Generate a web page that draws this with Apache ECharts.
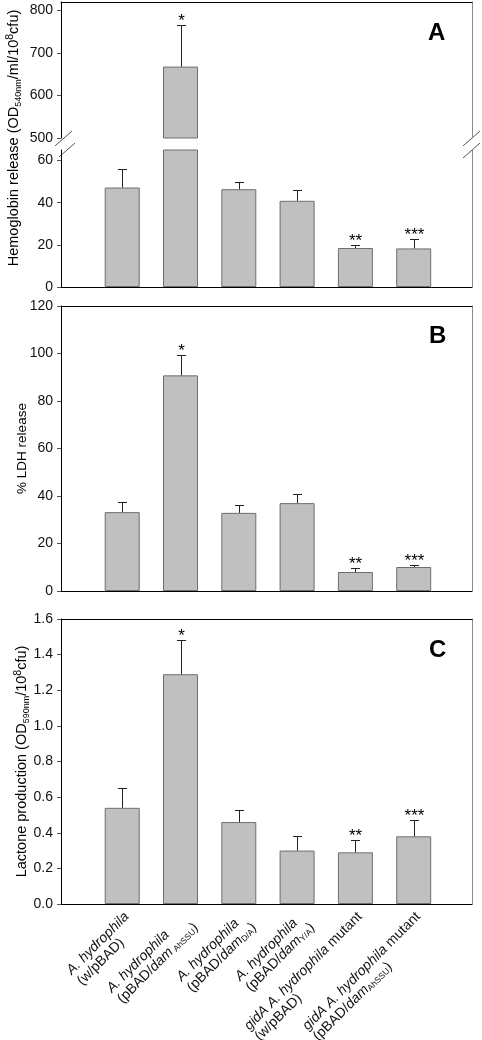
<!DOCTYPE html>
<html><head><meta charset="utf-8">
<script src="https://cdn.jsdelivr.net/npm/echarts@6/dist/echarts.min.js"></script>
<style>html,body{margin:0;padding:0;background:#fff}#c{width:482px;height:1040px}</style>
</head><body><div id="c"></div>
<script>
// ---------- data ----------
const categories = [
  '{i|A. hydrophila}\n{n|(w/pBAD)}',
  '{i|A. hydrophila}\n{n|(pBAD/}{i|dam}{s| AhSSU}{n|)}',
  '{i|A. hydrophila}\n{n|(pBAD/}{i|dam}{s|D/A}{n|)}',
  '{i|A. hydrophila}\n{n|(pBAD/}{i|dam}{s|Y/A}{n|)}',
  '{i|gidA A. hydrophila}{n| mutant}\n{n|(w/pBAD)}',
  '{i|gidA A. hydrophila}{n| mutant}\n{n|(pBAD/}{i|dam}{s|AhSSU}{n|)}'
];
const hemoglobin    = [47.2, 668, 46.4, 40.9, 18.5, 18.3];
const hemoglobinErr = [56.2, 765, 49.6, 46.0, 19.9, 23.0];
const ldh           = [33.2, 90.8, 32.9, 37.0, 8.0, 10.1];
const ldhErr        = [37.3, 99.5, 36.3, 40.9, 9.7, 10.9];
const lactone       = [0.54, 1.29, 0.46, 0.30, 0.29, 0.38];
const lactoneErr    = [0.65, 1.48, 0.53, 0.38, 0.36, 0.47];
const stars         = ['', '*', '', '', '**', '***'];
const hemoUpperTicks = [500, 600, 700, 800];
const hemoLowerTicks = [0, 20, 40, 60];
const ldhTicks       = [0, 20, 40, 60, 80, 100, 120];
const lactoneTicks   = [0, 0.2, 0.4, 0.6, 0.8, 1.0, 1.2, 1.4, 1.6];
const panelLetters   = ['A', 'B', 'C'];

// ---------- helpers ----------
const FONT = '"Liberation Sans", Arial, Helvetica, sans-serif';
const L = 61, W = 411;
const positions = categories.map((c, i) => i + 1);

function xAx(grid, pos, lineShow, color) {
  return {type: 'value', gridIndex: grid, position: pos, min: -0.05, max: 7,
    axisLine: {show: lineShow, onZero: false, lineStyle: {color: color, width: 1}},
    axisTick: {show: false}, axisLabel: {show: false}, splitLine: {show: false}};
}
function yLeft(grid, min, max, ticks, fmt) {
  return {type: 'value', gridIndex: grid, position: 'left', min: min, max: max,
    nameMoveOverlap: false,
    axisLine: {show: true, onZero: false, lineStyle: {color: '#000', width: 1}},
    axisTick: {show: true, length: 4, customValues: ticks, lineStyle: {color: '#555'}},
    axisLabel: {show: true, customValues: ticks, margin: 8, fontSize: 14, fontFamily: FONT, color: '#111',
      formatter: fmt || (v => String(v))},
    splitLine: {show: false}};
}
function yRight(grid, min, max) {
  return {type: 'value', gridIndex: grid, position: 'right', min: min, max: max,
    axisLine: {show: true, onZero: false, lineStyle: {color: '#8a8a8a', width: 1}},
    axisTick: {show: false}, axisLabel: {show: false}, splitLine: {show: false}};
}
function gridAt(top, height) {
  return {left: L, width: W, top: top, height: height, outerBoundsMode: 'none', containLabel: false};
}
const titleRich = {
  sub: {fontSize: 9, fontFamily: FONT, color: '#000', verticalAlign: 'bottom', lineHeight: 18},
  sup: {fontSize: 10.5, fontFamily: FONT, color: '#000', verticalAlign: 'top', lineHeight: 18}
};
function barSeries(xi, yi, vals, filter) {
  return {type: 'bar', xAxisIndex: xi, yAxisIndex: yi, barWidth: 35, clip: true,
    itemStyle: {color: '#c0c0c0', borderColor: '#6e6e6e', borderWidth: 1},
    emphasis: {disabled: true}, silent: true,
    data: vals.map((v, i) => [positions[i], filter && !filter(v) ? '-' : v])};
}
function errSeries(xi, yi, vals, errs, keep) {
  const pts = [];
  vals.forEach((v, i) => { if (keep(errs[i])) pts.push({x: positions[i], v: v, e: errs[i], s: stars[i]}); });
  return {type: 'custom', xAxisIndex: xi, yAxisIndex: yi, z: 5, silent: true,
    data: pts.map(p => [p.x, p.v, p.e]),
    renderItem: function (params, api) {
      const p = pts[params.dataIndex];
      const a = api.coord([p.x, p.v]), b = api.coord([p.x, p.e]);
      const x = Math.round(a[0]) + 0.5;
      const yb = Math.round(b[1]) + 0.5;
      const children = [
        {type: 'line', shape: {x1: x, y1: a[1], x2: x, y2: yb}, style: {stroke: '#222', lineWidth: 1}},
        {type: 'line', shape: {x1: x - 4.5, y1: yb, x2: x + 4.5, y2: yb}, style: {stroke: '#222', lineWidth: 1}}
      ];
      if (p.s) children.push({type: 'text', style: {text: p.s, x: x, y: yb - 4.5, fill: '#000',
        font: '17px ' + FONT, align: 'center', verticalAlign: 'middle'}});
      return {type: 'group', children: children};
    }};
}

// ---------- option ----------
const option = {
  animation: false,
  backgroundColor: '#fff',
  grid: [
    gridAt(2, 136),    // A upper (break)
    gridAt(150, 137),  // A lower
    gridAt(2, 272),    // A title holder
    gridAt(306, 285),  // B
    gridAt(619, 285)   // C
  ],
  xAxis: [
    xAx(0, 'top', true, '#000'),
    xAx(1, 'bottom', true, '#000'),
    Object.assign(xAx(2, 'bottom', false, '#000'), {show: false}),
    xAx(3, 'bottom', true, '#000'),
    xAx(3, 'top', true, '#000'),
    Object.assign(xAx(4, 'bottom', true, '#000'), {
      axisLabel: {show: true, customValues: positions, rotate: 45, margin: 6, padding: [28, 0, 0, 0],
        fontSize: 14, fontFamily: FONT, color: '#111',
        formatter: v => categories[Math.round(v) - 1] || '',
        rich: {
          i: {align: 'left', fontStyle: 'italic', fontSize: 14, fontFamily: FONT, color: '#111', lineHeight: 15},
          n: {align: 'left', fontSize: 14, fontFamily: FONT, color: '#111', lineHeight: 15},
          s: {align: 'left', fontSize: 8.5, fontFamily: FONT, color: '#111', verticalAlign: 'bottom', lineHeight: 15}
        }}
    }),
    xAx(4, 'top', true, '#000')
  ],
  yAxis: [
    yLeft(0, 500, 820, hemoUpperTicks),
    yRight(0, 500, 820),
    yLeft(1, 0, 65, hemoLowerTicks),
    yRight(1, 0, 65),
    {type: 'value', gridIndex: 2, min: 0, max: 1, axisLine: {show: false}, axisTick: {show: false},
      axisLabel: {show: false}, splitLine: {show: false}, nameMoveOverlap: false,
      name: 'Hemoglobin release (OD{sub|540nm}/ml/10{sup|8}cfu)', nameLocation: 'middle', nameRotate: 90, nameGap: 38,
      nameTextStyle: {fontSize: 14.5, fontFamily: FONT, color: '#000', rich: titleRich}},
    Object.assign(yLeft(3, 0, 120, ldhTicks), {name: '% LDH release', nameLocation: 'middle', nameRotate: 90, nameGap: 32,
      nameTextStyle: {fontSize: 13.5, fontFamily: FONT, color: '#000'}}),
    yRight(3, 0, 120),
    Object.assign(yLeft(4, 0, 1.6, lactoneTicks, v => v.toFixed(1)), {
      name: 'Lactone production (OD{sub|590nm}/10{sup|8}cfu)', nameLocation: 'middle', nameRotate: 90, nameGap: 30,
      nameTextStyle: {fontSize: 14.5, fontFamily: FONT, color: '#000', rich: titleRich}}),
    yRight(4, 0, 1.6)
  ],
  series: [
    barSeries(0, 0, hemoglobin, v => v >= hemoUpperTicks[0]),
    barSeries(1, 2, hemoglobin),
    barSeries(3, 5, ldh),
    barSeries(5, 7, lactone),
    errSeries(0, 0, hemoglobin, hemoglobinErr, e => e >= hemoUpperTicks[0]),
    errSeries(1, 2, hemoglobin, hemoglobinErr, e => e <= 65),
    errSeries(3, 5, ldh, ldhErr, () => true),
    errSeries(5, 7, lactone, lactoneErr, () => true)
  ],
  graphic: [
    {type: 'text', left: 428, top: 21, style: {text: panelLetters[0], font: 'bold 24px ' + FONT, fill: '#000'}},
    {type: 'text', left: 429, top: 324, style: {text: panelLetters[1], font: 'bold 24px ' + FONT, fill: '#000'}},
    {type: 'text', left: 429, top: 638, style: {text: panelLetters[2], font: 'bold 24px ' + FONT, fill: '#000'}},
    {type: 'line', shape: {x1: 55, y1: 146, x2: 72, y2: 131}, style: {stroke: '#555', lineWidth: 1}},
    {type: 'line', shape: {x1: 59, y1: 157, x2: 75, y2: 143}, style: {stroke: '#555', lineWidth: 1}},
    {type: 'line', shape: {x1: 463, y1: 146, x2: 480, y2: 131}, style: {stroke: '#555', lineWidth: 1}},
    {type: 'line', shape: {x1: 463, y1: 158, x2: 480, y2: 143}, style: {stroke: '#555', lineWidth: 1}}
  ]
};
const chart = echarts.init(document.getElementById('c'), null, {renderer: 'canvas'});
chart.setOption(option);
</script></body></html>
